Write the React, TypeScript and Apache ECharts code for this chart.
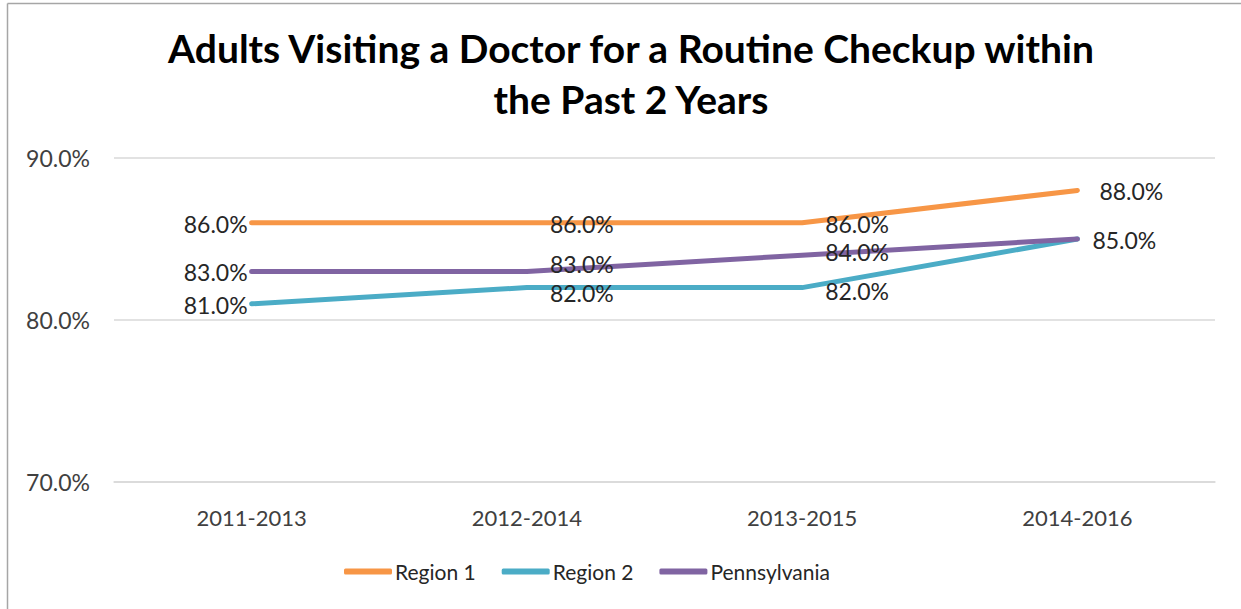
import React, { useEffect, useRef } from "react";
import * as echarts from "echarts";

const categories = ["2011-2013", "2012-2014", "2013-2015", "2014-2016"];
const region1 = [86.0, 86.0, 86.0, 88.0];
const region2 = [81.0, 82.0, 82.0, 85.0];
const pennsylvania = [83.0, 83.0, 84.0, 85.0];
const yTicks = { min: 70, max: 90, interval: 10 };
const titleText = "Adults Visiting a Doctor for a Routine Checkup within\nthe Past 2 Years";

const FONT = "Lato, 'Open Sans', sans-serif";
const fmt = (v: number) => v.toFixed(1) + "%";

function pointLabels(
  values: number[],
  lastDistance: number,
  hideLast = false,
  dys: Record<number, number> = {}
) {
  return values.map((v, i) => {
    const first = i === 0;
    const last = i === values.length - 1;
    const dy = dys[i] !== undefined ? dys[i] : 1;
    return {
      value: v,
      label: {
        show: !(hideLast && last),
        position: first ? [-4, dy] : [last ? lastDistance : 23, dy],
        align: first ? "right" : "left",
        verticalAlign: "middle",
      },
    };
  });
}

export default function App() {
  const ref = useRef<HTMLDivElement>(null);
  useEffect(() => {
    if (!ref.current) return;
    const chart = echarts.init(ref.current, null, { renderer: "svg" });
    const labelStyle = {
      show: true,
      fontFamily: FONT,
      fontSize: 23,
      color: "#262626",
      formatter: (p: any) => fmt(p.value),
    };
    const lineSeries = (name: string, color: string, data: any[]) => ({
      name,
      type: "line",
      data,
      symbol: "circle",
      symbolSize: 0,
      showSymbol: true,
      lineStyle: { color, width: 5, cap: "round", join: "round" },
      itemStyle: { color },
      label: labelStyle,
      labelLayout: { hideOverlap: false },
    });
    chart.setOption({
      animation: false,
      backgroundColor: "#ffffff",
      title: {
        text: titleText,
        left: 626,
        top: 17,
        textAlign: "center",
        textStyle: {
          fontFamily: FONT,
          fontWeight: "bold",
          fontSize: 39,
          lineHeight: 51,
          color: "#000000",
        },
      },
      graphic: [
        { type: "line", shape: { x1: 7.5, y1: 3.5, x2: 1241, y2: 3.5 }, style: { stroke: "#a6a6a6", lineWidth: 1.5 } },
        { type: "line", shape: { x1: 7.5, y1: 3.5, x2: 7.5, y2: 609 }, style: { stroke: "#a6a6a6", lineWidth: 1.5 } },
      ],
      legend: {
        left: 339,
        top: 556,
        itemWidth: 48,
        itemHeight: 6,
        itemGap: 26,
        icon: "roundRect",
        textStyle: { fontFamily: FONT, fontSize: 21, color: "#262626", padding: [0, 0, 0, -2] },
        data: ["Region 1", "Region 2", "Pennsylvania"],
      },
      grid: { left: 114, right: 26, top: 158, bottom: 127 },
      xAxis: {
        type: "category",
        data: categories,
        boundaryGap: true,
        axisLine: { lineStyle: { color: "#d9d9d9", width: 1.5 } },
        axisTick: { show: false },
        axisLabel: { fontFamily: FONT, fontSize: 22, color: "#404040", margin: 24 },
      },
      yAxis: {
        type: "value",
        min: yTicks.min,
        max: yTicks.max,
        interval: yTicks.interval,
        axisLine: { show: false },
        axisTick: { show: false },
        splitLine: { lineStyle: { color: "#d9d9d9", width: 1.5 } },
        axisLabel: { fontFamily: FONT, fontSize: 23, color: "#404040", margin: 24, formatter: (v: number) => fmt(v) },
      },
      series: [
        lineSeries("Region 1", "#F79646", pointLabels(region1, 22)),
        lineSeries("Region 2", "#4BACC6", pointLabels(region2, 15, true, { 1: 5, 2: 3 })),
        lineSeries("Pennsylvania", "#8064A2", pointLabels(pennsylvania, 15, false, { 1: -7, 2: -3 })),
      ],
    });
    return () => chart.dispose();
  }, []);
  return (
    <div
      ref={ref}
      style={{ position: "fixed", left: 0, top: 0, width: 1241, height: 609, background: "#fff" }}
    />
  );
}
